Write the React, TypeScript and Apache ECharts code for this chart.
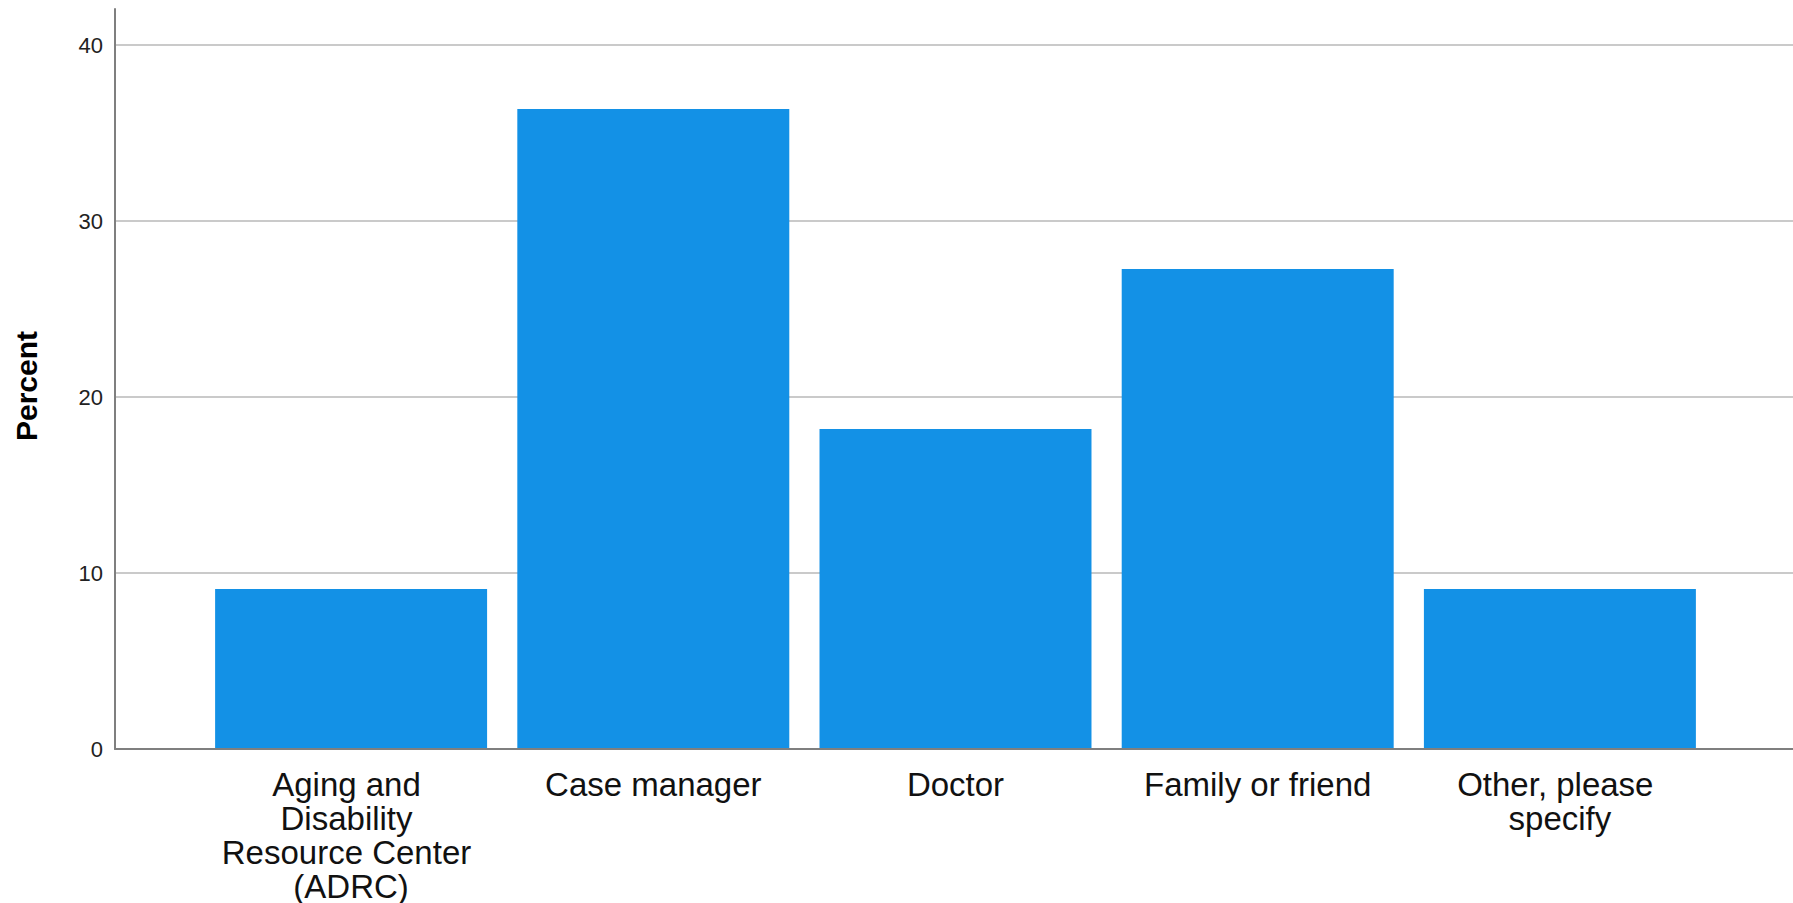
import React, { useEffect, useRef } from "react";
import * as echarts from "echarts";

const categories: string[] = [
  "Aging and Disability Resource Center (ADRC)",
  "Case manager",
  "Doctor",
  "Family or friend",
  "Other, please specify",
];
const percentValues: number[] = [9.09, 36.36, 18.18, 27.27, 9.09];
const yTickMin = 0;
const yTickMax = 40;
const yTickStep = 10;
const yAxisTop = 42;
const yAxisTitle = "Percent";

const FONT = "'Liberation Sans', Arial, Helvetica, sans-serif";

export default function App() {
  const ref = useRef<HTMLDivElement>(null);
  useEffect(() => {
    if (!ref.current) return;
    const chart = echarts.init(ref.current, null, { renderer: "svg" });
    const axisColor = "#7f7f7f";
    chart.setOption({
      animation: false,
      backgroundColor: "#ffffff",
      textStyle: { fontFamily: FONT },
      grid: [
        { left: 115, right: 0, top: 9, bottom: 154 },
        { left: 115, right: 0, top: 45, bottom: 154 },
        { left: 200, right: 82, top: 45, bottom: 154 },
      ],
      xAxis: [
        {
          gridIndex: 0,
          type: "value",
          min: 0,
          max: 1,
          z: 5,
          axisLine: { show: true, lineStyle: { color: axisColor, width: 2 } },
          axisTick: { show: false },
          axisLabel: { show: false },
          splitLine: { show: false },
        },
        { gridIndex: 1, type: "value", min: 0, max: 1, show: false },
        {
          gridIndex: 2,
          type: "category",
          data: categories,
          axisLine: { show: false },
          axisTick: { show: false },
          axisLabel: {
            interval: 0,
            fontFamily: FONT,
            fontSize: 33,
            lineHeight: 34,
            color: "#111111",
            width: 265,
            overflow: "break",
            margin: 18,
          },
        },
      ],
      yAxis: [
        {
          gridIndex: 0,
          type: "value",
          min: 0,
          max: yAxisTop,
          z: 5,
          axisLine: { show: true, lineStyle: { color: axisColor, width: 2 } },
          axisTick: { show: false },
          axisLabel: { show: false },
          splitLine: { show: false },
          name: yAxisTitle,
          nameLocation: "middle",
          nameGap: 74,
          nameTextStyle: {
            fontFamily: FONT,
            fontSize: 30,
            fontWeight: "bold",
            color: "#000000",
            padding: [0, 14, 0, 0],
          },
        },
        {
          gridIndex: 1,
          type: "value",
          min: yTickMin,
          max: yTickMax,
          interval: yTickStep,
          axisLine: { show: false },
          axisTick: { show: false },
          axisLabel: { fontFamily: FONT, fontSize: 22, color: "#222222", margin: 12 },
          splitLine: { show: true, lineStyle: { color: "#b8b8b8", width: 1.5 } },
        },
        { gridIndex: 2, type: "value", min: yTickMin, max: yTickMax, show: false },
      ],
      series: [
        {
          type: "bar",
          xAxisIndex: 2,
          yAxisIndex: 2,
          data: percentValues,
          barWidth: "90%",
          itemStyle: { color: "#1391e6" },
          z: 3,
        },
      ],
    });
    return () => chart.dispose();
  }, []);
  return (
    <div
      ref={ref}
      style={{ position: "fixed", left: 0, top: 0, width: 1793, height: 903, background: "#fff" }}
    />
  );
}
